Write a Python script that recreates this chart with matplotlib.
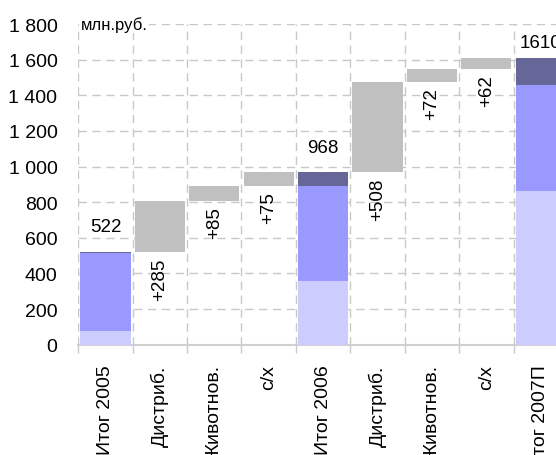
import matplotlib.pyplot as plt
import numpy as np

plt.rcParams['font.family'] = ['Liberation Sans', 'DejaVu Sans']

# categories along the x axis
labels = ['Итог 2005', 'Дистриб.', 'Животнов.', 'с/х',
          'Итог 2006', 'Дистриб.', 'Животнов.', 'с/х', 'Итог 2007П']

# totals split into three segments (bottom, middle, top), млн. руб.
total_idx = [0, 4, 8]
seg_bottom = [75, 358, 865]
seg_middle = [440, 531, 593]
seg_top = [7, 79, 152]
totals = [522, 968, 1610]

# increments between totals
delta_idx = [1, 2, 3, 5, 6, 7]
deltas = [285, 85, 75, 508, 72, 62]

c_light = '#CCCCFF'
c_mid = '#9999FF'
c_dark = '#666699'
c_gray = '#C0C0C0'

fig = plt.figure(figsize=(5.56, 4.56), dpi=100)
ax = fig.add_axes([78.3 / 556, 1 - 345.7 / 456, 489.6 / 556, 320.7 / 456])

w = 0.92
tx = np.array(total_idx)
b = np.array(seg_bottom)
m = np.array(seg_middle)
t = np.array(seg_top)
ax.bar(tx, b, width=w, color=c_light, zorder=3)
ax.bar(tx, m, bottom=b, width=w, color=c_mid, zorder=3)
ax.bar(tx, t, bottom=b + m, width=w, color=c_dark, zorder=3)
for x, v, off in zip(total_idx, totals, [12, 12, 5]):
    ax.annotate(str(v), (x, v), xytext=(0, off), textcoords='offset points',
                ha='center', va='bottom', fontsize=13.5)

# running level for the gray increment bars
level = {}
run = 0
for i in range(len(labels)):
    if i in total_idx:
        run = totals[total_idx.index(i)]
    else:
        level[i] = run
        run += deltas[delta_idx.index(i)]

for i, d in zip(delta_idx, deltas):
    base = level[i]
    ax.bar(i, d, bottom=base, width=w, color=c_gray, zorder=3)
    ax.annotate(f'+{d}', (i, base), xytext=(0, -4), textcoords='offset points',
                ha='center', va='top', rotation=90, fontsize=13.5)

ax.set_xlim(-0.5, len(labels) - 0.5)
ax.set_ylim(0, 1800)
ax.set_yticks(np.arange(0, 1801, 200))
ax.set_yticklabels([f'{v:,}'.replace(',', ' ') for v in range(0, 1801, 200)], fontsize=14)

# category boundaries carry the ticks and vertical grid
bounds = np.arange(-0.5, len(labels), 1.0)
ax.set_xticks(bounds)
ax.set_xticklabels([])
ax.set_xticks(np.arange(len(labels)), minor=True)
ax.set_xticklabels(labels, minor=True, rotation=90, fontsize=14, va='top')
ax.tick_params(axis='x', which='minor', length=0, pad=14)
ax.tick_params(axis='x', which='major', length=6, color='#C8C8C8', width=1)
ax.tick_params(axis='y', length=0, pad=15)

ax.grid(True, which='major', axis='both', color='#C8C8C8', linestyle=(0, (6, 4)),
        linewidth=1, zorder=0)
for s in ['top', 'right', 'left']:
    ax.spines[s].set_visible(False)
ax.spines['bottom'].set_color('#D0D0D0')
ax.spines['bottom'].set_linewidth(1.5)

ax.text(0.005, 1800, 'млн.руб.', ha='left', va='center', fontsize=12, zorder=4,
        transform=ax.get_yaxis_transform(),
        bbox=dict(facecolor='white', edgecolor='none', pad=1))

fig.savefig('out.png', dpi=100)
